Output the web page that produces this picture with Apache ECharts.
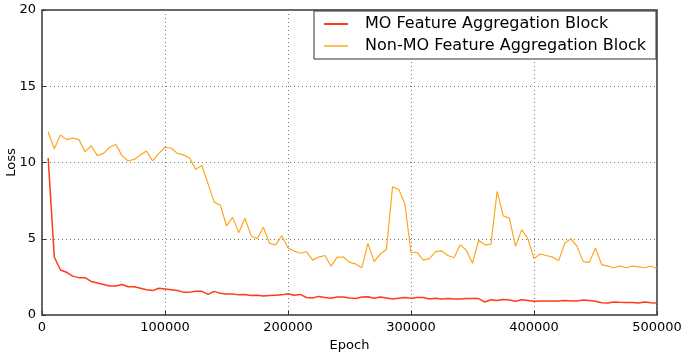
<!DOCTYPE html>
<html>
<head>
<meta charset="utf-8">
<script src="https://cdn.jsdelivr.net/npm/echarts@6/dist/echarts.min.js"></script>
<style>
  html, body { margin: 0; padding: 0; background: #fff; }
  #chart { width: 685px; height: 355px; }
</style>
</head>
<body>
<div id="chart"></div>
<script>
// loss sampled every 5000 epochs, 5000 .. 500000
var EPOCH_STEP = 5000;
var moLoss = [
  10.3, 3.8, 2.95, 2.8, 2.55, 2.45, 2.45, 2.2, 2.1, 2.0,
  1.9, 1.9, 2.0, 1.85, 1.85, 1.75, 1.65, 1.6, 1.75, 1.7,
  1.65, 1.6, 1.5, 1.5, 1.55, 1.55, 1.35, 1.55, 1.42, 1.38,
  1.38, 1.32, 1.35, 1.28, 1.3, 1.25, 1.28, 1.3, 1.32, 1.4,
  1.3, 1.35, 1.15, 1.12, 1.22, 1.15, 1.1, 1.18, 1.18, 1.12,
  1.08, 1.18, 1.2, 1.1, 1.18, 1.12, 1.05, 1.1, 1.15, 1.1,
  1.15, 1.15, 1.05, 1.1, 1.05, 1.08, 1.05, 1.05, 1.08, 1.08,
  1.08, 0.85, 1.0, 0.95, 1.02, 0.98, 0.9, 1.0, 0.95, 0.9,
  0.92, 0.92, 0.92, 0.92, 0.95, 0.92, 0.92, 0.98, 0.95, 0.9,
  0.8, 0.78, 0.85, 0.83, 0.82, 0.82, 0.78, 0.85, 0.8, 0.78
];
var nonMoLoss = [
  12.0, 10.9, 11.8, 11.5, 11.6, 11.5, 10.7, 11.1, 10.45, 10.6,
  11.0, 11.2, 10.45, 10.1, 10.2, 10.5, 10.75, 10.1, 10.6, 11.0,
  10.95, 10.6, 10.5, 10.3, 9.55, 9.8, 8.6, 7.4, 7.2, 5.85,
  6.4, 5.4, 6.35, 5.2, 5.0, 5.75, 4.7, 4.6, 5.2, 4.4,
  4.2, 4.05, 4.15, 3.6, 3.8, 3.9, 3.2, 3.8, 3.8, 3.45,
  3.35, 3.1, 4.7, 3.5, 4.0, 4.3, 8.4, 8.25, 7.3, 4.1,
  4.1, 3.6, 3.7, 4.15, 4.2, 3.9, 3.75, 4.6, 4.25, 3.4,
  4.9, 4.6, 4.65, 8.1, 6.5, 6.35, 4.5, 5.6, 5.0, 3.7,
  4.0, 3.9, 3.8, 3.55, 4.7, 5.0, 4.5, 3.5, 3.45, 4.4,
  3.3, 3.2, 3.1, 3.2, 3.1, 3.2, 3.15, 3.1, 3.2, 3.05
];
var seriesNames = ['MO Feature Aggregation Block', 'Non-MO Feature Aggregation Block'];
var seriesColors = ['#ff3b16', '#ffa51f'];

function pairs (vals) {
  return vals.map(function (v, i) { return [(i + 1) * EPOCH_STEP, v]; });
}

var myChart = echarts.init(document.getElementById('chart'));
var font = 'DejaVu Sans';
var option = {
  animation: false,
  textStyle: { fontFamily: font },
  grid: {
    left: 42, right: 28, top: 10, bottom: 40,
    outerBoundsMode: 'none', containLabel: false,
    show: true, borderColor: '#333', borderWidth: 1.5, backgroundColor: '#fff'
  },
  legend: {
    orient: 'vertical',
    right: 29, top: 11,
    padding: [5, 10, 5, 10],
    itemGap: 6,
    itemWidth: 24, itemHeight: 2,
    icon: 'rect',
    backgroundColor: '#fff',
    borderColor: '#333', borderWidth: 1,
    textStyle: { fontFamily: font, fontSize: 16, color: '#000', padding: [0, 0, 0, 12] },
    data: [
      { name: seriesNames[0], itemStyle: { color: seriesColors[0] } },
      { name: seriesNames[1], itemStyle: { color: '#ffbf55' } }
    ]
  },
  xAxis: {
    type: 'value', min: 0, max: 500000, interval: 100000,
    name: 'Epoch', nameLocation: 'middle', nameGap: 24, nameMoveOverlap: false,
    nameTextStyle: { fontFamily: font, fontSize: 13, color: '#000' },
    axisLine: { show: false },
    axisTick: { show: true, inside: true, length: 4, lineStyle: { color: '#333' } },
    axisLabel: {
      fontFamily: font, fontSize: 13, color: '#000', margin: 6,
      formatter: function (v) { return String(v); }
    },
    splitLine: { show: true, lineStyle: { color: '#777', type: [1, 3], width: 1 } }
  },
  yAxis: {
    type: 'value', min: 0, max: 20, interval: 5,
    name: 'Loss', nameLocation: 'middle', nameGap: 24, nameRotate: 90, nameMoveOverlap: false,
    nameTextStyle: { fontFamily: font, fontSize: 13, color: '#000' },
    axisLine: { show: false },
    axisTick: { show: true, inside: true, length: 4, lineStyle: { color: '#333' } },
    axisLabel: { fontFamily: font, fontSize: 13, color: '#000', margin: 6 },
    splitLine: { show: true, lineStyle: { color: '#777', type: [1, 3], width: 1 } }
  },
  series: [
    {
      name: seriesNames[0], type: 'line', data: pairs(moLoss),
      symbol: 'none', z: 3,
      lineStyle: { color: seriesColors[0], width: 1.5 },
      itemStyle: { color: seriesColors[0] }
    },
    {
      name: seriesNames[1], type: 'line', data: pairs(nonMoLoss),
      symbol: 'none', z: 2,
      lineStyle: { color: seriesColors[1], width: 1.2 },
      itemStyle: { color: seriesColors[1] }
    }
  ]
};
myChart.setOption(option);
window.addEventListener('resize', function () {
  myChart.resize();
});
</script>
</body>
</html>
